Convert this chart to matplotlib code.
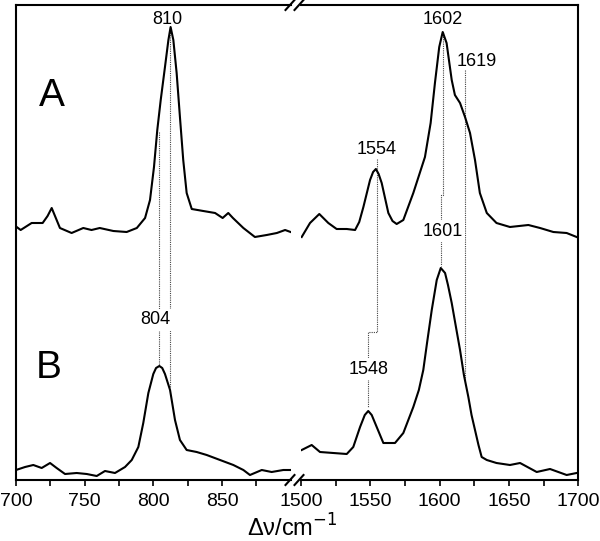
import numpy as np
import matplotlib
matplotlib.use("Agg")
import matplotlib.pyplot as plt
from matplotlib.lines import Line2D
from matplotlib.ticker import MultipleLocator, FixedLocator

plt.rcParams['font.family'] = ['Liberation Sans', 'DejaVu Sans']

# spectrum A (top), low and high wavenumber windows
a_lo_x = [700.5, 703.4, 711.4, 719.4, 723, 726, 729, 732, 740.5, 749, 755, 761, 770.9, 780.6, 788, 794,
          797.6, 800.5, 802.9, 805.4, 808.5, 811, 812.6, 814.6, 817, 819.4, 821.8, 824.3, 828,
          836.4, 845, 850.5, 854.6, 858, 865.6, 874, 882.6, 890, 896, 900]
a_lo_y = [253, 250, 257, 257, 264, 272, 262, 252, 247, 252, 250, 252, 249, 248, 252, 262,
          280, 313, 350, 380, 413, 440, 453, 440, 407, 363, 320, 287, 271,
          269, 267, 262, 267, 262, 252, 243, 245, 247, 250, 248]
a_hi_x = [1500.5, 1506.5, 1513.2, 1519.7, 1525.7, 1533, 1539, 1542, 1545, 1549.8, 1552, 1554, 1556,
          1558.2, 1563, 1566, 1569, 1573.8, 1581, 1589.4, 1593.5, 1596.6, 1599.7, 1602.2, 1605,
          1608.7, 1611, 1614.7, 1618.3, 1621.9, 1625.5, 1629, 1634, 1641, 1650.7, 1664, 1672.4,
          1682, 1691.6, 1698.8]
a_hi_y = [243, 257, 266, 257, 251, 251, 250, 258, 273, 300, 308, 311, 306,
          297, 267, 259, 256, 260, 287, 323, 357, 397, 433, 448, 437,
          400, 385, 377, 363, 347, 320, 287, 267, 257, 253, 255, 252,
          248, 247, 243]

# spectrum B (bottom)
b_lo_x = [700, 706.6, 712.6, 718.7, 724.8, 729.6, 735.7, 744.2, 751.5, 758.8, 764.8, 772.1,
          779.4, 784.3, 789.1, 792.7, 796.4, 800, 802, 804.4, 806.5, 808.5, 812.2, 815.8, 819.4,
          824.3, 831.6, 838.9, 848.6, 858.3, 865.6, 870.4, 879, 886.2, 894.7, 900]
b_lo_y = [10, 13, 15, 12, 17, 12, 6, 7, 6, 4, 9, 7,
          13, 20, 33, 57, 87, 106, 112, 114, 112, 106, 90, 60, 40,
          30, 28, 25, 20, 15, 10, 5, 10, 8, 10, 10]
b_hi_x = [1500.5, 1507.7, 1513.7, 1523.3, 1533, 1537.7, 1542.6, 1546, 1548.5, 1551, 1553.4,
          1559.4, 1567.8, 1573.8, 1581, 1585, 1588.2, 1591, 1594.3, 1597.9, 1600.8, 1603.9,
          1606, 1608.7, 1611.5, 1614.7, 1617.5, 1620.7, 1623, 1625.5, 1628, 1630.3, 1634, 1641,
          1650.7, 1658, 1670, 1679.6, 1691.6, 1698.8]
b_hi_y = [30, 35, 28, 27, 26, 33, 53, 65, 69, 65, 57,
          37, 37, 47, 73, 90, 110, 138, 170, 200, 212, 207,
          195, 177, 155, 130, 105, 83, 65, 50, 35, 23, 20, 17,
          15, 17, 8, 11, 5, 7]

# dotted guide lines linking peaks (x list, y list)
guides_lo = [([812.4, 812.4], [452, 92]),
             ([804.4, 804.4], [348, 114])]
guides_hi = [([1554.6, 1554.6, 1548.5, 1548.5], [321, 148, 148, 73]),
             ([1602.5, 1602.5, 1601.0, 1601.0], [448, 285, 285, 214]),
             ([1618.3, 1618.3], [410, 100])]

# peak labels: text, x, y, white box behind
labels_lo = [("810", 810.5, 461, False), ("804", 801.8, 160, True)]
labels_hi = [("1602", 1602.4, 460, False), ("1619", 1626.6, 418, False),
             ("1554", 1554.8, 330, False), ("1601", 1602.0, 249, True),
             ("1548", 1548.6, 111, True)]

W, H = 600, 541
fig = plt.figure(figsize=(W / 100, H / 100), dpi=100)
ax1 = fig.add_axes([16 / W, 61 / H, 274.6 / W, 475 / H])
ax2 = fig.add_axes([301 / W, 61 / H, 277.3 / W, 475 / H])

ax1.plot(a_lo_x, a_lo_y, color="black", lw=1.5)
ax1.plot(b_lo_x, b_lo_y, color="black", lw=1.5)
ax2.plot(a_hi_x, a_hi_y, color="black", lw=1.5)
ax2.plot(b_hi_x, b_hi_y, color="black", lw=1.5)

for gx, gy in guides_lo:
    ax1.plot(gx, gy, color="#444444", lw=0.8, linestyle=(0, (1, 1)), zorder=1)
for gx, gy in guides_hi:
    ax2.plot(gx, gy, color="#444444", lw=0.8, linestyle=(0, (1, 1)), zorder=1)

for ax, labels in ((ax1, labels_lo), (ax2, labels_hi)):
    for txt, x, y, boxed in labels:
        kw = {}
        if boxed:
            kw["bbox"] = dict(facecolor="white", edgecolor="none", pad=1.5)
        ax.text(x, y, txt, ha="center", va="center", fontsize=13, zorder=3, **kw)

ax1.text(726, 384, "A", ha="center", va="center", fontsize=28)
ax1.text(723.7, 112, "B", ha="center", va="center", fontsize=28)

ax1.set_xlim(700, 900)
ax2.set_xlim(1500, 1700)
for ax in (ax1, ax2):
    ax.set_ylim(0, 475)
    ax.set_yticks([])
    for s in ax.spines.values():
        s.set_linewidth(1.5)
    ax.tick_params(axis="x", which="both", direction="out", length=4, width=1.2,
                   labelsize=14, pad=5)
    ax.tick_params(axis="x", which="minor", labelbottom=False)

ax1.xaxis.set_major_locator(FixedLocator([700, 750, 800, 850]))
ax1.xaxis.set_minor_locator(FixedLocator([725, 775, 825, 875]))
ax2.xaxis.set_major_locator(MultipleLocator(50))
ax2.xaxis.set_minor_locator(MultipleLocator(25))
ax1.spines["right"].set_visible(False)
ax2.spines["left"].set_visible(False)

# break marks "//" on top and bottom spine
for cx in (290, 299):
    for cy in (H - 5, H - 480):
        fig.add_artist(Line2D([(cx - 4.5) / W, (cx + 4.5) / W],
                              [(cy - 5) / H, (cy + 5) / H],
                              transform=fig.transFigure, color="black", lw=1.5))

fig.text(292 / W, 1 - 528 / H, "Δν/cm$^{-1}$", ha="center", va="center", fontsize=17)

fig.savefig("out.png", dpi=100)
